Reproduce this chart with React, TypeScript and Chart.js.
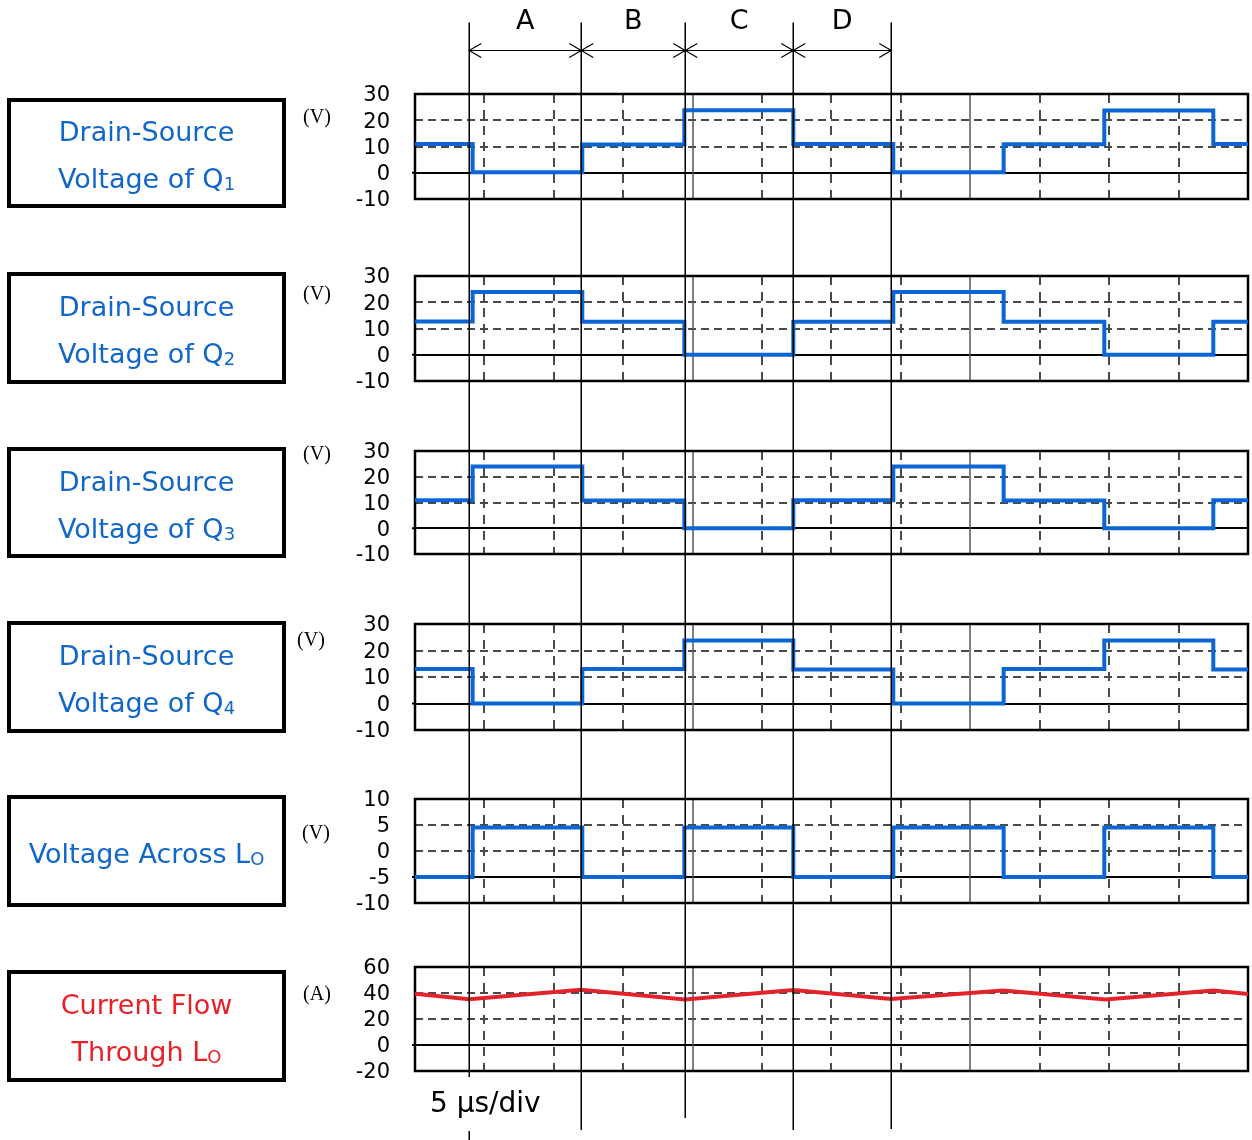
import React, { useEffect, useRef } from 'react';
import { Chart, registerables } from 'chart.js';

Chart.register(...registerables);

// ---------- data ----------
const switchTimes = [0, 0.83, 2.41, 3.88, 5.45, 6.89, 8.48, 9.93, 11.5, 12];
const q1Volts = [11, 0.2, 10.8, 23.8, 11, 0.2, 10.9, 23.7, 11, 11];
const q2Volts = [12.7, 23.9, 12.6, 0, 12.6, 23.9, 12.6, 0, 12.6, 12.6];
const q3Volts = [10.9, 24, 10.8, 0, 10.9, 24, 10.8, 0, 10.9, 10.9];
const q4Volts = [13, 0, 13, 23.8, 12.8, 0, 13, 23.8, 12.8, 12.8];
const loVolts = [-5, 4.5, -5, 4.5, -5, 4.5, -5, 4.5, -5, -5];
const currentTimes = [0, 0.78, 2.39, 3.89, 5.45, 6.86, 8.47, 9.95, 11.5, 12];
const loAmps = [39.5, 35.2, 42.5, 35, 42.3, 35.3, 42, 35, 42, 39.2];

const markerTimes = [0.78, 2.39, 3.89, 5.45, 6.86];
const phaseLabels = ['A', 'B', 'C', 'D'];

const panelIds = ['yQ1', 'yQ2', 'yQ3', 'yQ4', 'yLoV', 'yLoI'];
const panelMin = [-10, -10, -10, -10, -10, -20];
const panelMax = [30, 30, 30, 30, 10, 60];
const panelStep = [10, 10, 10, 10, 5, 20];
const panelRef = [0, 0, 0, 0, -5, 0];
const unitLabels = ['(V)', '(V)', '(V)', '(V)', '(V)', '(A)'];

// ---------- styles / layout ----------
const BLUE_LINE = '#0a66d4';
const RED_LINE = '#e3232b';
const BLUE_TEXT = '#1166cc';
const RED_TEXT = '#e8202a';
const GRID = '#4a4a4a';
const FONT = "'DejaVu Sans', Verdana, sans-serif";

const panelHeights = [105, 105, 103, 106, 104, 104];
const gapHeights = [77, 70, 70, 69, 64];
const AXIS_WIDTH = 80;
const PLOT_LEFT = 415;
const PLOT_TOP = 94;
const PLOT_BOTTOM = 1071;
const W = 1252;
const H = 1140;
const markerLineEnds = [1077, 1130, 1118, 1130, 1129];

const boxRects = [
  [7, 98, 279, 110],
  [7, 272, 279, 112],
  [7, 447, 279, 111],
  [7, 621, 279, 112],
  [7, 795, 279, 112],
  [7, 970, 279, 112],
];
const unitPos = [
  [317, 116],
  [317, 293],
  [317, 453],
  [311, 639],
  [316, 832],
  [317, 993],
];

const toPoints = (xs: number[], ys: number[]) => xs.map((x, i) => ({ x, y: ys[i] }));

function buildScales() {
  const scales: any = {
    x: { type: 'linear', min: 0, max: 12, display: false },
  };
  let order = 0;
  const total = panelIds.length * 2 - 1;
  panelIds.forEach((id, p) => {
    const ref = panelRef[p];
    const mn = panelMin[p];
    const mx = panelMax[p];
    scales[id] = {
      type: 'linear',
      position: 'left',
      stack: 'osc',
      stackWeight: panelHeights[p],
      weight: total - order,
      min: mn,
      max: mx,
      ticks: {
        stepSize: panelStep[p],
        autoSkip: false,
        padding: 25,
        labelOffset: 2,
        color: '#000',
        font: { family: FONT, size: 21 },
      },
      grid: {
        drawTicks: false,
        color: (ctx: any) => {
          const v = ctx.tick ? ctx.tick.value : 0;
          if (v === mn || v === mx) return 'rgba(0,0,0,0)';
          return v === ref ? '#000' : GRID;
        },
        lineWidth: 2,
      },
      border: {
        display: false,
        dash: (ctx: any) => {
          const v = ctx.tick ? ctx.tick.value : 0;
          return v === ref ? [] : [8, 5];
        },
      },
      afterFit: (s: any) => {
        s.width = AXIS_WIDTH;
      },
    };
    order++;
    if (p < gapHeights.length) {
      scales['gap' + p] = {
        type: 'linear',
        position: 'left',
        stack: 'osc',
        stackWeight: gapHeights[p],
        weight: total - order,
        display: false,
        min: 0,
        max: 1,
      };
      order++;
    }
  });
  return scales;
}

const decorPlugin = {
  id: 'oscDecor',
  beforeDatasetsDraw(chart: any) {
    const { ctx, chartArea } = chart;
    const xs = chart.scales.x;
    ctx.save();
    panelIds.forEach((id, p) => {
      const s = chart.scales[id];
      const top = s.top;
      const bottom = s.bottom;
      for (let i = 1; i < 12; i++) {
        const x = Math.round(xs.getPixelForValue(i));
        ctx.beginPath();
        if (i % 4 === 0) {
          ctx.setLineDash([]);
          ctx.strokeStyle = '#555';
          ctx.lineWidth = 1.5;
        } else {
          ctx.setLineDash([9, 7]);
          ctx.strokeStyle = GRID;
          ctx.lineWidth = 2;
        }
        ctx.moveTo(x, top);
        ctx.lineTo(x, bottom);
        ctx.stroke();
      }
      ctx.setLineDash([]);
      // reference line stub to the left
      const yr = s.getPixelForValue(panelRef[p]);
      ctx.strokeStyle = '#000';
      ctx.lineWidth = 2;
      ctx.beginPath();
      ctx.moveTo(chartArea.left - 3, yr);
      ctx.lineTo(chartArea.left, yr);
      ctx.stroke();
      // frame
      ctx.lineWidth = 2.5;
      ctx.strokeStyle = '#000';
      ctx.strokeRect(chartArea.left, top, chartArea.right - chartArea.left, bottom - top);
    });
    ctx.restore();
  },
  afterDraw(chart: any) {
    const { ctx } = chart;
    const xs = chart.scales.x;
    ctx.save();
    ctx.setLineDash([]);
    ctx.strokeStyle = '#000';
    ctx.lineWidth = 1.5;
    const mx = markerTimes.map((t) => Math.round(xs.getPixelForValue(t)) + 0.25);
    mx.forEach((x, i) => {
      ctx.beginPath();
      ctx.moveTo(x, 22.5);
      ctx.lineTo(x, markerLineEnds[i]);
      if (i === 0) {
        ctx.moveTo(x, 1131);
        ctx.lineTo(x, 1140);
      }
      ctx.stroke();
    });
    // arrows
    const ay = 50.5;
    const hl = 12;
    const hh = 7;
    ctx.lineWidth = 1.2;
    for (let i = 0; i < mx.length - 1; i++) {
      const a = mx[i];
      const b = mx[i + 1];
      ctx.beginPath();
      ctx.moveTo(a, ay);
      ctx.lineTo(b, ay);
      ctx.moveTo(a + hl, ay - hh);
      ctx.lineTo(a, ay);
      ctx.lineTo(a + hl, ay + hh);
      ctx.moveTo(b - hl, ay - hh);
      ctx.lineTo(b, ay);
      ctx.lineTo(b - hl, ay + hh);
      ctx.stroke();
      ctx.fillStyle = '#000';
      ctx.font = `27px ${FONT}`;
      ctx.textAlign = 'center';
      ctx.textBaseline = 'alphabetic';
      ctx.fillText(phaseLabels[i], (a + b) / 2, 29);
    }
    ctx.restore();
  },
};

const panelTitles: { lines: string[][]; color: string }[] = [
  { lines: [['Drain-Source'], ['Voltage of Q', '1']], color: BLUE_TEXT },
  { lines: [['Drain-Source'], ['Voltage of Q', '2']], color: BLUE_TEXT },
  { lines: [['Drain-Source'], ['Voltage of Q', '3']], color: BLUE_TEXT },
  { lines: [['Drain-Source'], ['Voltage of Q', '4']], color: BLUE_TEXT },
  { lines: [['Voltage Across L', 'O']], color: BLUE_TEXT },
  { lines: [['Current Flow'], ['Through L', 'O']], color: RED_TEXT },
];

export default function App() {
  const ref = useRef<HTMLCanvasElement>(null);
  useEffect(() => {
    const cfg: any = {
      type: 'line',
      data: {
        datasets: [
          { data: toPoints(switchTimes, q1Volts), yAxisID: 'yQ1', borderColor: BLUE_LINE, stepped: true },
          { data: toPoints(switchTimes, q2Volts), yAxisID: 'yQ2', borderColor: BLUE_LINE, stepped: true },
          { data: toPoints(switchTimes, q3Volts), yAxisID: 'yQ3', borderColor: BLUE_LINE, stepped: true },
          { data: toPoints(switchTimes, q4Volts), yAxisID: 'yQ4', borderColor: BLUE_LINE, stepped: true },
          { data: toPoints(switchTimes, loVolts), yAxisID: 'yLoV', borderColor: BLUE_LINE, stepped: true },
          { data: toPoints(currentTimes, loAmps), yAxisID: 'yLoI', borderColor: RED_LINE },
        ].map((d) => ({ ...d, borderWidth: 4, pointRadius: 0, tension: 0, fill: false, borderJoinStyle: 'miter' })),
      },
      options: {
        animation: false,
        responsive: false,
        devicePixelRatio: 1,
        parsing: true,
        layout: {
          padding: {
            left: PLOT_LEFT - AXIS_WIDTH,
            top: PLOT_TOP,
            right: W - 1248,
            bottom: H - PLOT_BOTTOM,
          },
        },
        plugins: { legend: { display: false }, tooltip: { enabled: false }, title: { display: false } },
        scales: buildScales(),
      },
      plugins: [decorPlugin],
    };
    const chart = new Chart(ref.current as HTMLCanvasElement, cfg);
    return () => chart.destroy();
  }, []);

  return (
    <div style={{ position: 'absolute', left: 0, top: 0, width: W, height: H, background: '#fff', overflow: 'hidden' }}>
      <canvas ref={ref} width={W} height={H} style={{ position: 'absolute', left: 0, top: 0, width: W, height: H }} />
      {panelTitles.map((t, i) => {
        const [x, y, w, h] = boxRects[i];
        return (
          <div
            key={'box' + i}
            style={{
              position: 'absolute',
              left: x,
              top: y,
              width: w,
              height: h,
              border: '4px solid #000',
              boxSizing: 'border-box',
              display: 'flex',
              flexDirection: 'column',
              justifyContent: 'center',
              alignItems: 'center',
              fontFamily: FONT,
              fontSize: 27,
              lineHeight: '47px',
              color: t.color,
              paddingTop: 4,
              whiteSpace: 'nowrap',
            }}
          >
            {t.lines.map((ln, j) => (
              <div key={j} style={{ height: 47 }}>
                {ln[0]}
                {ln[1] ? <span style={{ fontSize: 18, verticalAlign: '-2px', lineHeight: '18px' }}>{ln[1]}</span> : null}
              </div>
            ))}
          </div>
        );
      })}
      {unitLabels.map((u, i) => (
        <div
          key={'unit' + i}
          style={{
            position: 'absolute',
            left: unitPos[i][0] - 25,
            top: unitPos[i][1] - 12,
            width: 50,
            height: 24,
            lineHeight: '24px',
            textAlign: 'center',
            fontFamily: "'Liberation Serif', 'Times New Roman', serif",
            fontSize: 20,
            color: '#000',
          }}
        >
          {u}
        </div>
      ))}
      <div
        style={{
          position: 'absolute',
          left: 430,
          top: 1086,
          height: 34,
          lineHeight: '34px',
          fontFamily: FONT,
          fontSize: 28,
          color: '#000',
          whiteSpace: 'nowrap',
        }}
      >
        5 µs/div
      </div>
    </div>
  );
}
